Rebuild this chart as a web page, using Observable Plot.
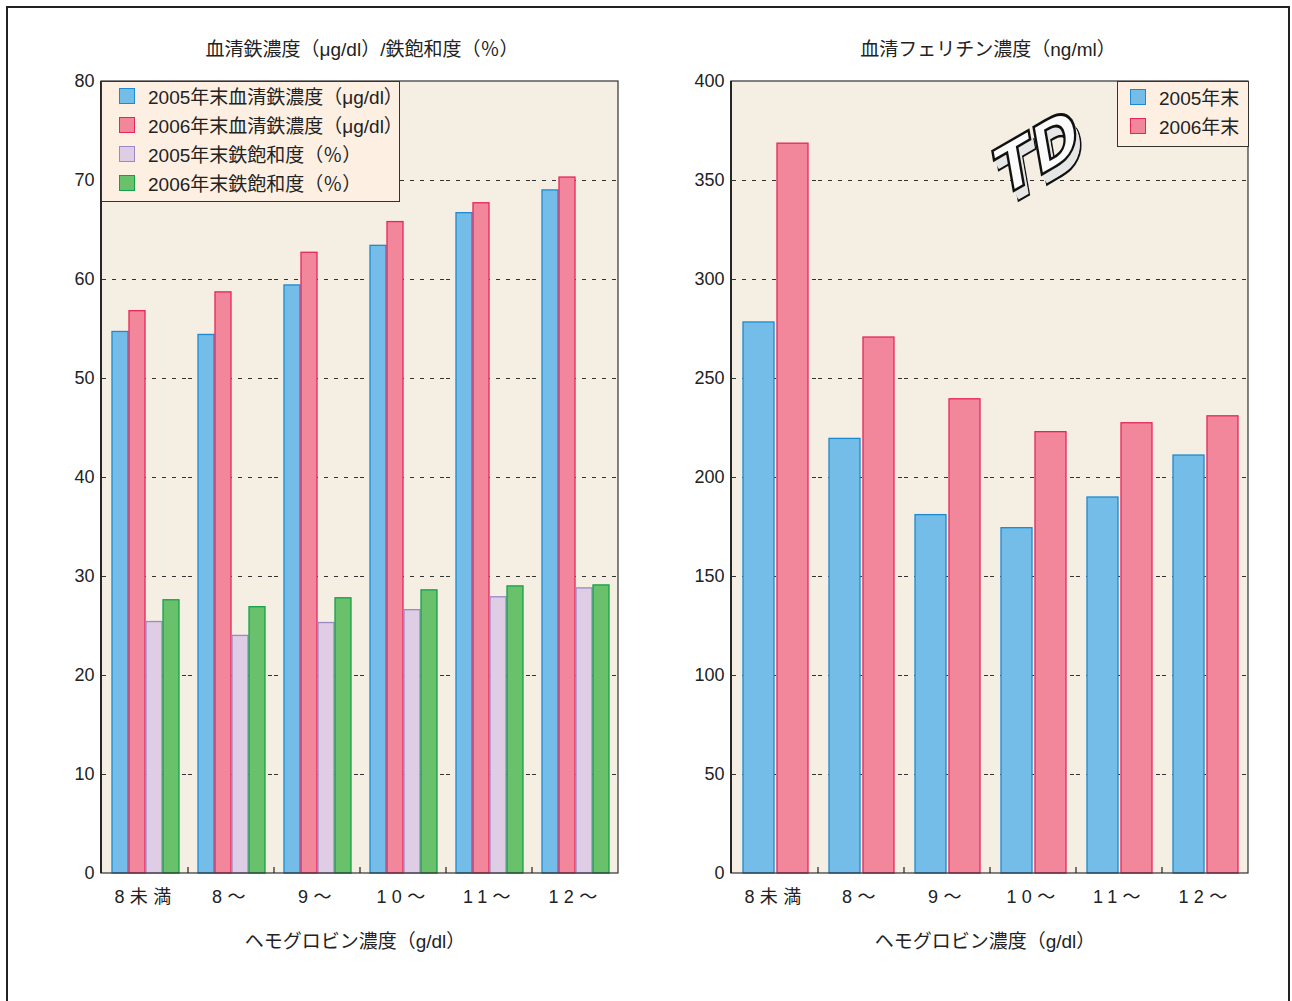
<!DOCTYPE html>
<html><head><meta charset="utf-8">
<script src="https://cdn.jsdelivr.net/npm/d3@7"></script>
<script src="https://cdn.jsdelivr.net/npm/@observablehq/plot@0.6"></script>
<style>
body{margin:0;background:#fff;width:1292px;height:1001px;overflow:hidden;font-family:"Liberation Sans","Noto Sans CJK JP",sans-serif;color:#222;position:relative}
#frame{position:absolute;left:6px;top:6px;width:1284px;height:1000px;border:2px solid #222;box-sizing:border-box}
.title{position:absolute;font-size:19px;transform:translateX(-50%);white-space:nowrap;line-height:22px}
.chart{position:absolute;top:0}
.legend{position:absolute;background:#fdf0e3;border:1px solid #333;font-size:19px;box-sizing:border-box}
.legend .row{display:flex;align-items:center;height:29px;white-space:nowrap}
.legend .sw{width:14px;height:14px;border:1.5px solid;margin-right:13px;flex:none}
g[aria-label^="fx-axis"] text{letter-spacing:0.3em}
#logo{position:absolute;left:965px;top:80px;width:150px;height:140px;overflow:visible}
</style></head><body>
<div id="frame"></div>
<div id="c1" class="chart" style="left:0px"></div>
<div id="c2" class="chart" style="left:630px"></div>
<div class="title" style="left:362px;top:39px">血清鉄濃度（μg/dl）/鉄飽和度（％）</div>
<div class="title" style="left:988px;top:39px">血清フェリチン濃度（ng/ml）</div>
<div class="title" style="left:355px;top:931px">ヘモグロビン濃度（g/dl）</div>
<div class="title" style="left:985px;top:931px">ヘモグロビン濃度（g/dl）</div>
<svg id="logo" viewBox="0 0 150 140"></svg>
<div id="leg1" class="legend" style="left:101px;top:81px;width:299px;height:121px;padding:0 0 0 17px"><div style="height:0;margin-top:-1px"></div></div>
<div id="leg2" class="legend" style="left:1117px;top:81px;width:132px;height:66px;padding:0 0 0 12px"></div>
<script>
const groups = ["8未満","8〜","9〜","10〜","11〜","12〜"];

const ironSeries = ["2005年末血清鉄濃度（μg/dl）","2006年末血清鉄濃度（μg/dl）","2005年末鉄飽和度（％）","2006年末鉄飽和度（％）"];
const iron2005 = [54.7, 54.4, 59.4, 63.4, 66.7, 69.0];
const iron2006 = [56.8, 58.7, 62.7, 65.8, 67.7, 70.3];
const sat2005  = [25.4, 24.0, 25.3, 26.6, 27.9, 28.8];
const sat2006  = [27.6, 26.9, 27.8, 28.6, 29.0, 29.1];
const leftTicks = [0, 10, 20, 30, 40, 50, 60, 70, 80];

const ferritinSeries = ["2005年末","2006年末"];
const ferritin2005 = [278.3, 219.5, 181.0, 174.4, 189.9, 211.1];
const ferritin2006 = [368.6, 270.7, 239.5, 222.9, 227.4, 230.9];
const rightTicks = [0, 50, 100, 150, 200, 250, 300, 350, 400];

const fillsIron = ["#74bde8", "#f2879b", "#dfcde6", "#6ac16b"];
const strokesIron = ["#1d8ad0", "#e8245c", "#9d88c6", "#14a04b"];
const fillsFer = ["#74bde8", "#f2879b"];
const strokesFer = ["#1d8ad0", "#e8245c"];

const FONT = '"Liberation Sans","Noto Sans CJK JP",sans-serif';

function makeChart(el, {series, values, fills, strokes, ticks, padIn, padOut}) {
  const W = 640, H = 960, mL = 101, mR = 22, mT = 81, mB = 87;
  const yMax = ticks[ticks.length - 1];
  const marks = [
    Plot.ruleY(ticks.filter(t => t > 0 && t < yMax), {stroke: "#333", strokeWidth: 1, strokeDasharray: "4,6"})
  ];
  series.forEach((s, j) => {
    const data = groups.map((g, i) => ({group: g, series: s, value: values[j][i]}));
    marks.push(Plot.barY(data, {fx: "group", x: "series", y: "value", fill: fills[j], stroke: strokes[j], strokeWidth: 1.3}));
  });
  const chart = Plot.plot({
    width: W, height: H, marginLeft: mL, marginRight: mR, marginTop: mT, marginBottom: mB,
    style: {fontSize: "18px", fontFamily: FONT, background: "transparent", color: "#222"},
    fx: {domain: groups, padding: 0, label: null, tickSize: 0, tickPadding: 17, axis: "bottom"},
    x: {domain: series, paddingInner: padIn, paddingOuter: padOut, axis: null},
    y: {domain: [0, yMax], ticks: ticks, tickSize: 0, tickPadding: 8, label: null, tickFormat: d => String(d)},
    marks
  });
  const svg = d3.select(chart);
  const x0 = mL, x1 = W - mR, y0 = mT, y1 = H - mB;
  svg.insert("rect", ":first-child")
    .attr("x", x0).attr("y", y0).attr("width", x1 - x0).attr("height", y1 - y0)
    .attr("fill", "#f5eee2");
  svg.append("rect")
    .attr("x", x0).attr("y", y0).attr("width", x1 - x0).attr("height", y1 - y0)
    .attr("fill", "none").attr("stroke", "#333").attr("stroke-width", 1.2);
  svg.append("line").attr("x1", x0).attr("x2", x0).attr("y1", y0).attr("y2", y1)
    .attr("stroke", "#111").attr("stroke-width", 1.6);
  let fx = null;
  try { fx = chart.scale("fx"); } catch (e) { fx = null; }
  for (let i = 1; i < groups.length; i++) {
    let xb = x0 + i * (x1 - x0) / groups.length;
    if (fx && fx.apply) { const v = fx.apply(groups[i]); if (isFinite(v)) xb = v; }
    svg.append("line").attr("x1", xb).attr("x2", xb).attr("y1", y1).attr("y2", y1 - 6)
      .attr("stroke", "#222").attr("stroke-width", 1.2);
  }
  document.getElementById(el).appendChild(chart);
}

makeChart("c1", {series: ironSeries, values: [iron2005, iron2006, sat2005, sat2006],
  fills: fillsIron, strokes: strokesIron, ticks: leftTicks, padIn: 0.06, padOut: 0.49});
makeChart("c2", {series: ferritinSeries, values: [ferritin2005, ferritin2006],
  fills: fillsFer, strokes: strokesFer, ticks: rightTicks, padIn: 0.09, padOut: 0.29});

function legend(el, series, fills, strokes) {
  const box = document.getElementById(el);
  series.forEach((s, j) => {
    const row = document.createElement("div");
    row.className = "row";
    const sw = document.createElement("div");
    sw.className = "sw";
    sw.style.background = fills[j];
    sw.style.borderColor = strokes[j];
    const t = document.createElement("span");
    t.textContent = s;
    row.appendChild(sw); row.appendChild(t);
    box.appendChild(row);
  });
}
legend("leg1", ironSeries, fillsIron, strokesIron);
legend("leg2", ferritinSeries, fillsFer, strokesFer);

// decorative extruded "TD" logo
(function () {
  const logo = d3.select("#logo");
  const g = logo.append("g").attr("transform", "translate(72,72) rotate(-30) skewX(-20)");
  for (let k = 12; k >= 0; k--) {
    g.append("text").attr("x", 0).attr("y", 22 + k * 0.9).attr("dx", k * 0.3)
      .attr("text-anchor", "middle").attr("font-family", "DejaVu Sans").attr("font-weight", "bold")
      .attr("font-size", 62).attr("fill", k === 0 ? "#fbfbfb" : "#e6e6e6")
      .attr("stroke", "#111").attr("stroke-width", k === 0 || k === 12 ? 2.6 : 0)
      .text("TD");
  }
})();
</script>
</body></html>
